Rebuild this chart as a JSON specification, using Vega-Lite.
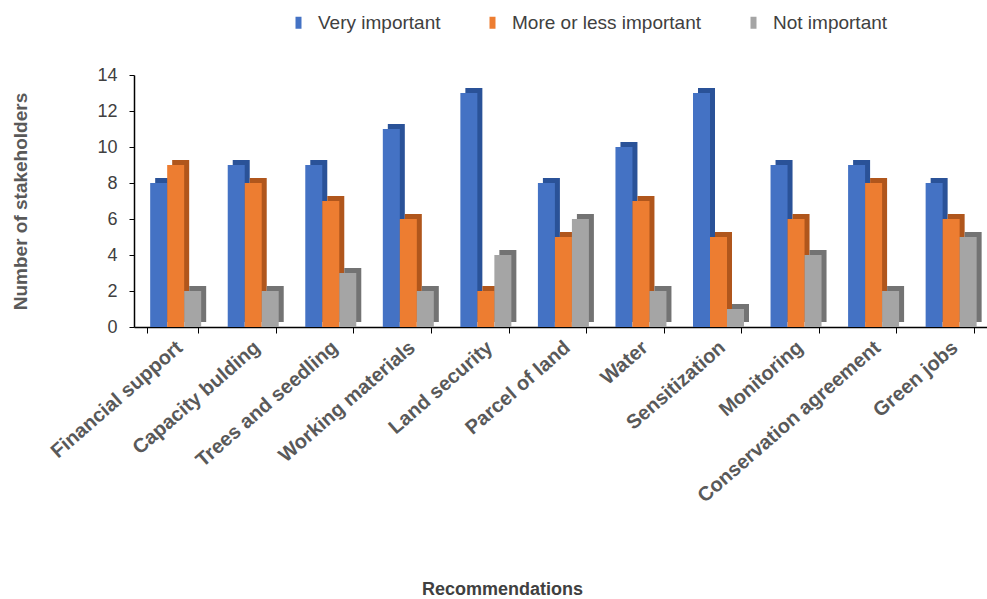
{
  "$schema": "https://vega.github.io/schema/vega-lite/v6.json",
  "width": 853,
  "height": 252,
  "autosize": "none",
  "padding": {"left": 134, "top": 75, "right": 0, "bottom": 272},
  "config": {"view": {"stroke": null}, "font": "Liberation Sans", "background": "white"},
  "data": {
    "values": [
      {"Recommendation": "Financial support", "Importance": "Very important", "Count": 8},
      {"Recommendation": "Financial support", "Importance": "More or less important", "Count": 9},
      {"Recommendation": "Financial support", "Importance": "Not important", "Count": 2},
      {"Recommendation": "Capacity bulding", "Importance": "Very important", "Count": 9},
      {"Recommendation": "Capacity bulding", "Importance": "More or less important", "Count": 8},
      {"Recommendation": "Capacity bulding", "Importance": "Not important", "Count": 2},
      {"Recommendation": "Trees and seedling", "Importance": "Very important", "Count": 9},
      {"Recommendation": "Trees and seedling", "Importance": "More or less important", "Count": 7},
      {"Recommendation": "Trees and seedling", "Importance": "Not important", "Count": 3},
      {"Recommendation": "Working materials", "Importance": "Very important", "Count": 11},
      {"Recommendation": "Working materials", "Importance": "More or less important", "Count": 6},
      {"Recommendation": "Working materials", "Importance": "Not important", "Count": 2},
      {"Recommendation": "Land security", "Importance": "Very important", "Count": 13},
      {"Recommendation": "Land security", "Importance": "More or less important", "Count": 2},
      {"Recommendation": "Land security", "Importance": "Not important", "Count": 4},
      {"Recommendation": "Parcel of land", "Importance": "Very important", "Count": 8},
      {"Recommendation": "Parcel of land", "Importance": "More or less important", "Count": 5},
      {"Recommendation": "Parcel of land", "Importance": "Not important", "Count": 6},
      {"Recommendation": "Water", "Importance": "Very important", "Count": 10},
      {"Recommendation": "Water", "Importance": "More or less important", "Count": 7},
      {"Recommendation": "Water", "Importance": "Not important", "Count": 2},
      {"Recommendation": "Sensitization", "Importance": "Very important", "Count": 13},
      {"Recommendation": "Sensitization", "Importance": "More or less important", "Count": 5},
      {"Recommendation": "Sensitization", "Importance": "Not important", "Count": 1},
      {"Recommendation": "Monitoring", "Importance": "Very important", "Count": 9},
      {"Recommendation": "Monitoring", "Importance": "More or less important", "Count": 6},
      {"Recommendation": "Monitoring", "Importance": "Not important", "Count": 4},
      {"Recommendation": "Conservation agreement", "Importance": "Very important", "Count": 9},
      {"Recommendation": "Conservation agreement", "Importance": "More or less important", "Count": 8},
      {"Recommendation": "Conservation agreement", "Importance": "Not important", "Count": 2},
      {"Recommendation": "Green jobs", "Importance": "Very important", "Count": 8},
      {"Recommendation": "Green jobs", "Importance": "More or less important", "Count": 6},
      {"Recommendation": "Green jobs", "Importance": "Not important", "Count": 5}
    ]
  },
  "encoding": {
    "x": {
      "field": "Recommendation",
      "type": "nominal",
      "sort": ["Financial support", "Capacity bulding", "Trees and seedling", "Working materials", "Land security", "Parcel of land", "Water", "Sensitization", "Monitoring", "Conservation agreement", "Green jobs"],
      "scale": {"paddingInner": 0.34, "paddingOuter": 0.17},
      "axis": {
        "title": "Recommendations",
        "titleFontSize": 18,
        "titleFontWeight": "bold",
        "titleColor": "#404040",
        "titleX": 368,
        "titleY": 262,
        "titleBaseline": "middle",
        "labelAngle": -41,
        "labelFontSize": 20,
        "labelFontWeight": "bold",
        "labelColor": "#595959",
        "labelPadding": 4,
        "labelLimit": 0,
        "tickBand": "extent",
        "tickSize": 6,
        "tickColor": "black",
        "domainColor": "black",
        "domainWidth": 1.5
      }
    },
    "y": {
      "field": "Count",
      "type": "quantitative",
      "scale": {"domain": [0, 14]},
      "axis": {
        "title": "Number of stakeholders",
        "titleFontSize": 19,
        "titleFontWeight": "bold",
        "titleColor": "#595959",
        "titlePadding": 66,
        "values": [0, 2, 4, 6, 8, 10, 12, 14],
        "labelFontSize": 18,
        "labelColor": "#404040",
        "labelPadding": 12,
        "tickSize": 5,
        "tickColor": "black",
        "domainColor": "black",
        "domainWidth": 1.5,
        "grid": false
      }
    }
  },
  "layer": [
    {
      "mark": {"type": "bar", "yOffset": -5},
      "encoding": {
        "xOffset": {"field": "Importance", "sort": ["Very important", "More or less important", "Not important"], "scale": {"range": [8, 59]}},
        "color": {
          "field": "Importance",
          "type": "nominal",
          "scale": {"domain": ["Very important", "More or less important", "Not important"], "range": ["#2A5298", "#B0561C", "#737373"]},
          "legend": null
        }
      }
    },
    {
      "mark": {"type": "bar"},
      "encoding": {
        "xOffset": {"field": "Importance", "sort": ["Very important", "More or less important", "Not important"], "scale": {"range": [3, 54]}},
        "color": {
          "field": "Importance",
          "type": "nominal",
          "scale": {"domain": ["Very important", "More or less important", "Not important"], "range": ["#4472C4", "#ED7D31", "#A5A5A5"]},
          "legend": {
            "title": null,
            "orient": "none",
            "direction": "horizontal",
            "legendX": 155,
            "legendY": -62,
            "symbolType": "M-0.5,-1H0.5V1H-0.5Z",
            "symbolSize": 144,
            "symbolStrokeWidth": 0,
            "labelFontSize": 19,
            "labelColor": "#404040",
            "labelOffset": 10,
            "labelLimit": 0,
            "columnPadding": 42
          }
        }
      }
    }
  ],
  "resolve": {"scale": {"color": "independent", "xOffset": "independent"}}
}
